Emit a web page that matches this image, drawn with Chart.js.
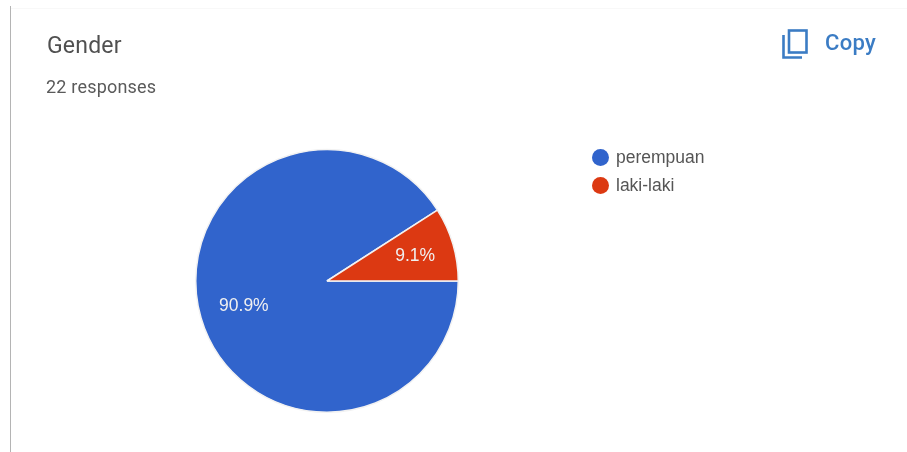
<!DOCTYPE html>
<html>
<head>
<meta charset="utf-8">
<title>Gender</title>
<script src="https://cdn.jsdelivr.net/npm/chart.js@4"></script>
<style>
  html, body { margin: 0; padding: 0; background: #fff; }
  body { width: 907px; height: 452px; position: relative; overflow: hidden; font-family: Roboto, sans-serif; }
  #wrap { position: absolute; left: 0; top: 0; width: 907px; height: 452px; }
  .rule { position: absolute; left: 10px; top: 6px; bottom: 0; width: 1px; background: #b4b4b4; }
  .top-rule { position: absolute; left: 11px; right: 0; top: 8px; height: 1px; background: #f8f8f8; }
  .txt { position: absolute; white-space: nowrap; filter: blur(0.4px); }
  #title { left: 47px; top: 33px; font-size: 23px; line-height: 26px; color: #505050; letter-spacing: 0.2px; }
  #sub { left: 46px; top: 76px; font-size: 18px; line-height: 22px; color: #5a5a5a; letter-spacing: 0.2px; }
  #copy { left: 825px; top: 29px; font-size: 22px; line-height: 28px; color: #3b7cc4; font-weight: 500; letter-spacing: 0.3px; }
  #icon { position: absolute; left: 781px; top: 28px; filter: blur(0.4px); }
  .key { position: absolute; left: 592px; width: 17px; height: 17px; border-radius: 50%; filter: blur(0.3px); }
  .lab { left: 616px; font-family: "Liberation Sans", Arial, sans-serif; font-size: 17.5px; line-height: 22px; color: #555; }
</style>
</head>
<body>
<div id="wrap"><canvas id="pie"></canvas></div>
<div class="rule"></div>
<div class="top-rule"></div>
<div class="txt" id="title">Gender</div>
<div class="txt" id="sub">22 responses</div>
<svg id="icon" width="28" height="32" viewBox="0 0 28 32" fill="none" stroke="#3b7cc4" stroke-width="2.6">
  <path d="M2.5 7 V29.5 H21"/>
  <rect x="8" y="2.5" width="17.5" height="22"/>
</svg>
<div class="txt" id="copy">Copy</div>
<div id="legend"></div>

<script>
"use strict";

const CATEGORIES = ["perempuan", "laki-laki"];
const RESPONSES = [20, 2];
const PERCENT_LABELS = ["90.9%", "9.1%"];
const SLICE_COLORS = ["#3164cc", "#dc3912"];

// percent text sits about two thirds of the way out along each slice's middle
const sliceLabels = {
  id: "sliceLabels",
  afterDatasetsDraw(chart) {
    const ctx = chart.ctx;
    ctx.save();
    ctx.fillStyle = "#f0f0f0";
    ctx.font = '17.5px "Liberation Sans", Arial, sans-serif';
    ctx.textAlign = "center";
    ctx.textBaseline = "middle";
    chart.getDatasetMeta(0).data.forEach((arc, i) => {
      const p = arc.getProps(["x", "y", "startAngle", "endAngle", "outerRadius"], true);
      const mid = (p.startAngle + p.endAngle) / 2;
      const r = p.outerRadius * 0.68;
      ctx.fillText(PERCENT_LABELS[i], p.x + Math.cos(mid) * r + 2.5, p.y + Math.sin(mid) * r + 0.5);
    });
    ctx.restore();
  },
};

function renderLegend() {
  const box = document.getElementById("legend");
  box.innerHTML = CATEGORIES.map((c, i) => {
    const top = 148.5 + i * 28;
    return `<div class="key" style="top:${top}px;background:${SLICE_COLORS[i]}"></div>` +
      `<div class="txt lab" style="top:${top - 2.5}px">${c}</div>`;
  }).join("");
}

renderLegend();

new Chart(document.getElementById("pie"), {
  type: "pie",
  data: {
    labels: CATEGORIES,
    datasets: [{ data: RESPONSES, backgroundColor: SLICE_COLORS, borderColor: "#f2f2f2", borderWidth: 1.5 }],
  },
  options: {
    responsive: true,
    maintainAspectRatio: false,
    animation: false,
    rotation: 90,
    layout: { padding: { left: 195, right: 448, top: 149, bottom: 39 } },
    plugins: { legend: { display: false }, tooltip: { enabled: false } },
  },
  plugins: [sliceLabels],
});
</script>
</body>
</html>
